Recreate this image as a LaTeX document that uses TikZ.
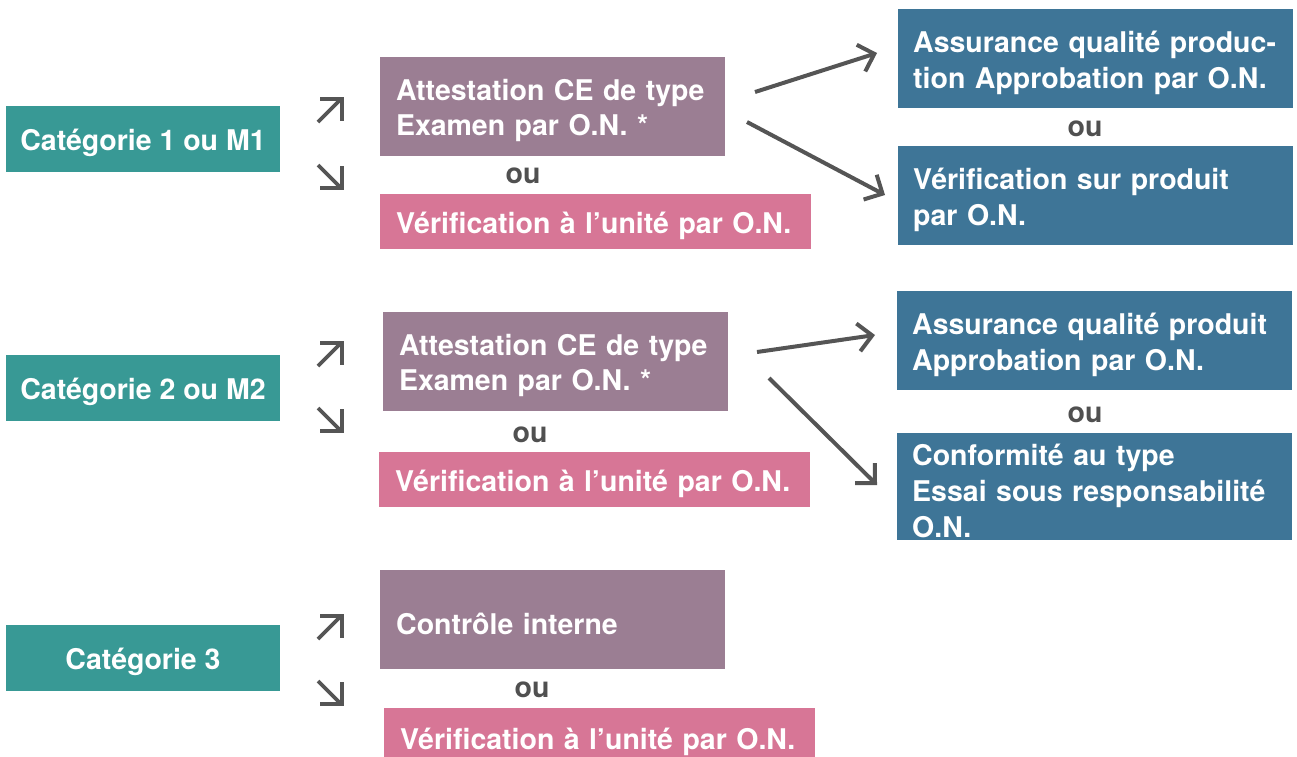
\documentclass[tikz,border=0pt]{standalone}
\usepackage{fontspec}
\setmainfont{TeX Gyre Heros}
\usetikzlibrary{arrows.meta}
\definecolor{teal}{RGB}{56,153,149}
\definecolor{mauve}{RGB}{155,126,147}
\definecolor{pinkc}{RGB}{215,118,150}
\definecolor{bluec}{RGB}{62,117,151}
\definecolor{arrgray}{RGB}{85,85,85}
\definecolor{ougray}{RGB}{80,80,80}
\newcommand\lowtxt[1]{\raisebox{-4pt}[\height][\depth]{#1}}
\tikzset{
  basefont/.style={font=\bfseries\fontsize{28.5}{35}\selectfont},
  cat/.style={basefont, fill=teal, text=white, minimum width=274, minimum height=66, inner sep=0},
  mbox/.style={basefont, fill=mauve, text=white, anchor=north west, minimum height=99, inner xsep=16, inner ysep=0, text width=313, align=left},
  pbox/.style={basefont, fill=pinkc, text=white, anchor=north west, inner xsep=16, inner ysep=0, text width=399, minimum height=55, align=left},
  bbox/.style={basefont, font=\bfseries\fontsize{28.5}{36}\selectfont, fill=bluec, text=white, anchor=north west, inner xsep=15, inner ysep=0, text width=365, minimum height=99, align=left},
  ou/.style={basefont, text=ougray, anchor=base, inner sep=0},
  conn/.style={draw=arrgray, line width=4, -{Straight Barb[length=14pt,width=28pt,line cap=butt,line join=miter]}},
  smallarr/.style={draw=arrgray, line width=3.6, line cap=butt, line join=miter},
  ne/.pic={\draw[smallarr] (-12,12) -- (11,-11); \draw[smallarr] (-10,-11) -- (12,-11) -- (12,11);},
  se/.pic={\draw[smallarr] (-12,-12) -- (11,11); \draw[smallarr] (-10,11) -- (12,11) -- (12,-11);}
}
\begin{document}
\begin{tikzpicture}[x=1pt,y=-1pt]
\useasboundingbox (0,0) rectangle (1297,756);
% Row 1
\node[cat] (c1) at (143,139) {\lowtxt{Catégorie 1 ou M1}};
\pic at (330,110) {ne};
\pic at (330,177) {se};
\node[mbox] (att1) at (380,57) {\lowtxt{Attestation CE de type}\\\lowtxt{Examen par O.N. *}};
\node[ou] (ou1) at (523,183) {ou};
\node[pbox] (ver1) at (380,194) {\lowtxt{Vérification à l’unité par O.N.}};
\node[bbox] (aq1) at (898,9) {\lowtxt{Assurance qualité produc-}\\\lowtxt{tion Approbation par O.N.}};
\node[ou] (ou1b) at (1085,136) {ou};
\node[bbox] (vp1) at (898,146) {\lowtxt{Vérification sur produit}\\\lowtxt{par O.N.}};
\coordinate (a1s) at (755,92);
\coordinate (a1e) at (877,53);
\coordinate (b1s) at (747,122);
\coordinate (b1e) at (885,195);
\draw[conn] (a1s) -- (a1e);
\draw[conn] (b1s) -- (b1e);
% Row 2
\node[cat] (c2) at (143,388) {\lowtxt{Catégorie 2 ou M2}};
\pic at (330,354) {ne};
\pic at (330,420) {se};
\node[mbox] (att2) at (383,312) {\lowtxt{Attestation CE de type}\\\lowtxt{Examen par O.N. *}};
\node[ou] (ou2) at (530,442) {ou};
\node[pbox] (ver2) at (379,452) {\lowtxt{Vérification à l’unité par O.N.}};
\node[bbox] (aq2) at (897,291) {\lowtxt{Assurance qualité produit}\\\lowtxt{Approbation par O.N.}};
\node[ou] (ou2b) at (1085,422) {ou};
\node[bbox, minimum height=107] (ct2) at (897,433) {\lowtxt{Conformité au type}\\\lowtxt{Essai sous responsabilité}\\\lowtxt{O.N.}};
\coordinate (a2s) at (757,352);
\coordinate (a2e) at (875,335);
\coordinate (b2s) at (769,378);
\coordinate (b2e) at (877,485);
\draw[conn] (a2s) -- (a2e);
\draw[conn] (b2s) -- (b2e);
% Row 3
\node[cat] (c3) at (143,658) {\lowtxt{Catégorie 3}};
\pic at (330,627) {ne};
\pic at (330,693) {se};
\node[mbox] (ci3) at (380,570) {\lowtxt{Contrôle interne}};
\node[ou] (ou3) at (532,697) {ou};
\node[pbox, minimum height=60] (ver3) at (384,708) {\lowtxt{Vérification à l’unité par O.N.}};
\end{tikzpicture}
\end{document}
